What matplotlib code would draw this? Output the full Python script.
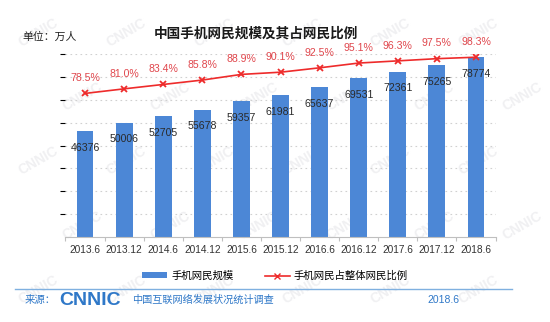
import numpy as np
import matplotlib
matplotlib.use("Agg")
import matplotlib.pyplot as plt
from matplotlib.lines import Line2D
from matplotlib.patches import Patch

plt.rcParams['font.family'] = ['Liberation Sans', 'Noto Sans CJK SC', 'DejaVu Sans']

# Survey periods and values
periods = ['2013.6', '2013.12', '2014.6', '2014.12', '2015.6', '2015.12',
           '2016.6', '2016.12', '2017.6', '2017.12', '2018.6']
mobile_users = [46376, 50006, 52705, 55678, 59357, 61981,
                65637, 69531, 72361, 75265, 78774]
mobile_share = [78.5, 81.0, 83.4, 85.8, 88.9, 90.1,
                92.5, 95.1, 96.3, 97.5, 98.3]

BAR_BLUE = '#4c87d6'
LINE_RED = '#ee2b2b'
LABEL_RED = '#e0464c'
FOOT_BLUE = '#2f78c8'

fig = plt.figure(figsize=(5.5, 3.22), dpi=100)
fig.patch.set_facecolor('white')

# background layer with faint watermark tiles
bg = fig.add_axes([0, 0, 1, 1], zorder=-5)
bg.set_xlim(0, 1)
bg.set_ylim(0, 1)
bg.axis('off')
for row, wy in enumerate(np.arange(0.1, 0.95, 0.2)):
    off = 0.08 if row % 2 else 0.0
    for wx in np.arange(0.07, 0.95, 0.16):
        bg.text(wx + off, wy, 'CNNIC', rotation=30, fontsize=10, fontweight='bold',
                color='#f0f0f2', ha='center', va='center')

ax = fig.add_axes([0.119, 0.264, 0.782, 0.568])
ax.patch.set_alpha(0)
x = np.arange(len(periods))

ax.bar(x, mobile_users, width=0.43, color=BAR_BLUE, zorder=2)
for xi, v in zip(x, mobile_users):
    ax.annotate(str(v), (xi, v), xytext=(0, -12), textcoords='offset points',
                ha='center', va='center', fontsize=7.6, color='#2a2a2a', zorder=4)

ax.set_ylim(0, 80000)
ax.set_xlim(-0.5, len(periods) - 0.5)
ax.set_yticks(np.arange(10000, 80001, 10000))
ax.yaxis.grid(True, linestyle=(0, (1.5, 3)), color='#d0d0d0', linewidth=0.8)
ax.set_axisbelow(True)
ax.tick_params(axis='y', left=False, labelleft=False)
for side in ['left', 'right', 'top']:
    ax.spines[side].set_visible(False)
ax.spines['bottom'].set_color('#bfbfbf')
ax.spines['bottom'].set_linewidth(0.8)

ax.set_xticks(x)
ax.set_xticklabels(periods, fontsize=7.3, color='#333333')
ax.tick_params(axis='x', length=0, pad=6)
ax.set_xticks(np.arange(-0.5, len(periods), 1), minor=True)
ax.tick_params(axis='x', which='minor', length=3, color='#bfbfbf', width=0.8)

ax2 = ax.twinx()
ax2.plot(x, mobile_share, color=LINE_RED, linewidth=1.2, marker='x',
         markersize=5, markeredgewidth=1.3, zorder=3)
for xi, v in zip(x, mobile_share):
    ax2.annotate(f'{v:.1f}%', (xi, v), xytext=(0, 11), textcoords='offset points',
                 ha='center', va='center', fontsize=7.6, color=LABEL_RED)
ax2.set_ylim(0, 100)
ax2.axis('off')

fig.text(0.465, 0.897, '中国手机网民规模及其占网民比例', ha='center', va='center',
         fontsize=9.8, fontweight='bold', color='#1a1a1a')
fig.text(0.04, 0.885, '单位：万人', ha='left', va='center', fontsize=7.8, color='#222222')

handles = [Patch(facecolor=BAR_BLUE, edgecolor='none'),
           Line2D([0], [0], color=LINE_RED, marker='x', markersize=4, linewidth=1.2)]
fig.legend(handles, ['手机网民规模', '手机网民占整体网民比例'], loc='center',
           bbox_to_anchor=(0.5, 0.143), ncol=2, frameon=False, fontsize=7.5,
           handlelength=2.4, handleheight=0.5, columnspacing=3.0, handletextpad=0.4)

# footer rule and source line
fig.add_artist(Line2D([0.027, 0.93], [0.103, 0.103], color='#7fb0e0', linewidth=1.0))
fig.text(0.045, 0.068, '来源：', ha='left', va='center', fontsize=7.5, color=FOOT_BLUE)
fig.text(0.108, 0.068, 'CNNIC', ha='left', va='center', fontsize=14, fontweight='bold',
         color=FOOT_BLUE)
fig.text(0.24, 0.068, '中国互联网络发展状况统计调查', ha='left', va='center', fontsize=7.3,
         color=FOOT_BLUE)
fig.text(0.778, 0.068, '2018.6', ha='left', va='center', fontsize=7.5, color=FOOT_BLUE)

fig.savefig('out.png', dpi=100)
